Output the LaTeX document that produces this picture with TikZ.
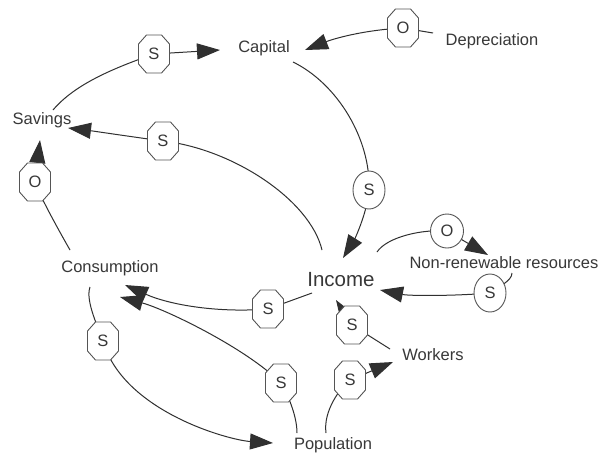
\documentclass[tikz,border=0pt]{standalone}
\usepackage{fontspec}
\setmainfont{Liberation Sans}
\usetikzlibrary{arrows.meta,backgrounds,shapes.geometric}
\definecolor{ln}{HTML}{303030}
\definecolor{tx}{HTML}{383838}
\definecolor{ol}{HTML}{555555}
\tikzset{
  lbl/.style={font=\fontsize{16.5}{19}\selectfont, text=tx, inner sep=0pt},
  big/.style={font=\fontsize{20.5}{24}\selectfont, text=tx, inner sep=0pt},
  pol/.style={rectangle, minimum width=31pt, minimum height=38pt, inner sep=0pt, font=\fontsize{16.5}{18}\selectfont, text=tx},
  octline/.style={draw=ol, fill=white, line width=0.9pt},
  ell/.style={ellipse, draw=ol, fill=white, line width=0.9pt, minimum width=32pt, minimum height=38pt, inner sep=0pt, font=\fontsize{16.5}{18}\selectfont, text=tx},
  link/.style={draw=ln, line width=1pt},
  arr/.style={link, -{Triangle[length=23pt,width=16pt]}},
}
\newcommand{\octo}[4]{%
  \filldraw[octline] (#2-15.5,#3-10) -- (#2-7.5,#3-19) -- (#2+7.5,#3-19) -- (#2+15.5,#3-10) -- (#2+15.5,#3+10) -- (#2+7.5,#3+19) -- (#2-7.5,#3+19) -- (#2-15.5,#3+10) -- cycle;
  \node[pol] (#1) at (#2,#3) {#4};}
\begin{document}
\begin{tikzpicture}[x=1pt,y=-1pt]
\useasboundingbox (0,0) rectangle (602,456);
% labels
\node[lbl] (savings) at (42,120) {Savings};
\node[lbl] (capital) at (264,48) {Capital};
\node[lbl] (depreciation) at (492,41) {Depreciation};
\node[lbl] (consumption) at (110,268) {Consumption};
\node[big] (income) at (341,280) {Income};
\node[lbl] (nonren) at (504,263) {Non-renewable resources};
\node[lbl] (workers) at (433,355) {Workers};
\node[lbl] (population) at (333,445) {Population};
% polarity marks
\octo{p1}{154}{54}{S}
\octo{p2}{403}{28}{O}
\node[ell] (p3) at (369,190) {S};
\octo{p4}{163}{141}{S}
\octo{p5}{35}{182}{O}
\node[ell,minimum height=34pt,minimum width=33pt] (p6) at (447,231) {O};
\node[ell] (p7) at (490,293) {S};
\octo{p8}{268}{309}{S}
\octo{p9}{281}{383}{S}
\octo{p10}{103}{341}{S}
\octo{p11}{352}{325}{S}
\octo{p12}{350}{380}{S}
\begin{scope}[on background layer]
\fill[white] (0,0) rectangle (602,456);
% Savings -> Capital
\draw[link] ([shift={(11,-10)}]savings.center) .. controls +(22,-26) and +(-40,14) .. (p1.center);
\draw[arr] (p1.center) -- ([shift={(-44,2)}]capital.center);
% Depreciation -> Capital
\draw[link] ([shift={(-59,-8)}]depreciation.center) -- (p2.center);
\draw[arr] (p2.center) .. controls +(-40,2) and +(28,-11) .. ([shift={(41,2)}]capital.center);
% Capital -> Income
\draw[link] ([shift={(29,14)}]capital.center) .. controls +(45,22) and +(2,-50) .. (p3.center);
\draw[arr] (p3.center) .. controls +(-2,25) and +(10,-16) .. ([shift={(2,-22)}]income.center);
% Income -> Savings
\draw[link] ([shift={(-19,-30)}]income.center) .. controls +(-12,-50) and +(70,8) .. (p4.center);
\draw[arr] (p4.center) .. controls +(-30,-4) and +(25,3) .. ([shift={(26,8)}]savings.center);
% Consumption -> Savings
\draw[link] ([shift={(-40,-18)}]consumption.center) .. controls +(-8,-14) and +(5,15) .. (p5.center);
\draw[arr] (p5.center) -- ([shift={(-2,20)}]savings.center);
% Income -> Non-renewable resources
\draw[link] ([shift={(36,-28)}]income.center) .. controls +(10,-15) and +(-25,-2) .. (p6.center);
\draw[arr] (p6.center) -- ([shift={(-16,-8)}]nonren.center);
% Non-renewable resources -> Income
\draw[link] ([shift={(8,10)}]nonren.center) .. controls +(0,8) and +(8,-6) .. (p7.center);
\draw[arr] (p7.center) .. controls +(-35,3) and +(30,6) .. ([shift={(39,10)}]income.center);
% Income -> Consumption
\draw[link] ([shift={(-29,13)}]income.center) -- (p8.center);
\draw[arr] (p8.center) .. controls +(-50,4) and +(45,20) .. ([shift={(15,17)}]consumption.center);
% Population -> Consumption
\draw[link] ([shift={(-36,-12)}]population.center) .. controls +(0,-18) and +(6,10) .. (p9.center);
\draw[arr] (p9.center) .. controls +(-35,-35) and +(45,12) .. ([shift={(10,29)}]consumption.center);
% Consumption -> Population
\draw[link] ([shift={(-20,19)}]consumption.center) .. controls +(-5,14) and +(-4,-12) .. (p10.center);
\draw[arr] (p10.center) .. controls +(20,70) and +(-45,-3) .. ([shift={(-60,-2)}]population.center);
% Workers -> Income
\draw[link] ([shift={(-43,-6)}]workers.center) -- (p11.center);
\draw[arr] (p11.center) -- ([shift={(-5,20)}]income.center);
% Population -> Workers
\draw[link] ([shift={(-7,-12)}]population.center) .. controls +(-3,-22) and +(-10,8) .. (p12.center);
\draw[arr] (p12.center) -- ([shift={(-40,7)}]workers.center);
\end{scope}
\end{tikzpicture}
\end{document}
